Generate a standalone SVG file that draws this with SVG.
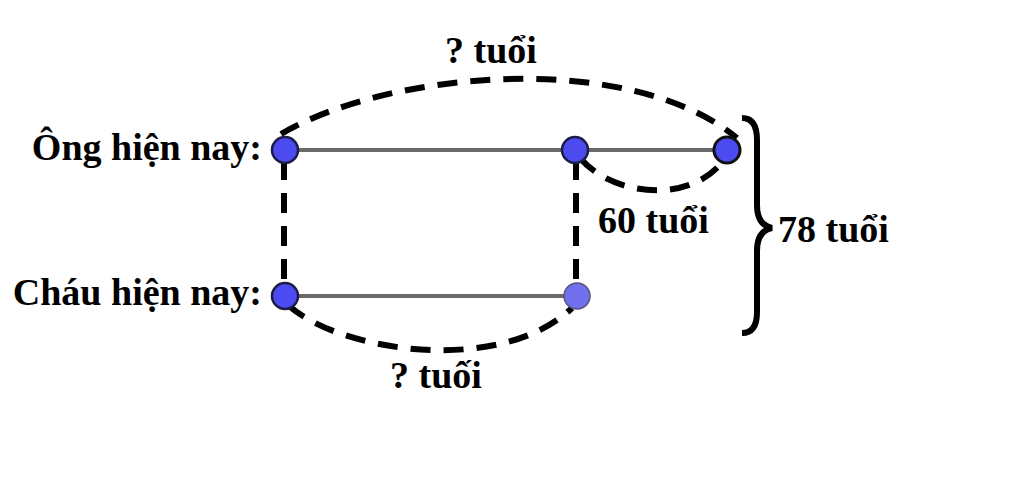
<svg xmlns="http://www.w3.org/2000/svg" width="1024" height="481" viewBox="0 0 1024 481">
<style>
.t{font-family:"Liberation Serif","Times New Roman",serif;font-weight:bold;font-size:38px;fill:#000}
.seg{stroke:#6a6a6a;stroke-width:4;fill:none}
.dash{stroke:#000;stroke-width:6;fill:none;stroke-dasharray:20 13}
.node{fill:#4b4bef;stroke:#1c1c45;stroke-width:2.5}
</style>
<rect width="1024" height="481" fill="#fff"/>
<g id="connectors">
<line class="seg" x1="285" y1="150" x2="727" y2="150"/>
<line class="seg" x1="285" y1="296" x2="577" y2="296"/>
<line class="dash" x1="284" y1="160" x2="284" y2="290" stroke-dasharray="18 12"/>
<line class="dash" x1="576" y1="160" x2="576" y2="290" stroke-dasharray="18 12"/>
<path class="dash" d="M 281 134 C 390 70 630 50 737 138"/>
<path class="dash" d="M 580 158 C 612 196 690 205 724 160" stroke-dasharray="18 12"/>
<path class="dash" d="M 288 305 C 340 352 500 376 572 308"/>
<path d="M 742 118 C 752 118 757 125 757 140 L 757 205 C 757 218 762 226 772 228 C 762 230 757 238 757 251 L 757 312 C 757 326 752 333 742 333" stroke="#000" stroke-width="6" fill="none"/>
</g>
<g id="ong"><circle class="node" cx="285" cy="150" r="13"/><text class="t" x="262" y="160" text-anchor="end">Ông hiện nay:</text></g>
<g id="ong-mid"><circle class="node" cx="575" cy="150" r="13"/></g>
<g id="ong-end"><circle class="node" cx="727" cy="150" r="13" style="stroke:#111;stroke-width:3"/></g>
<g id="chau"><circle class="node" cx="285" cy="296" r="13"/><text class="t" x="262" y="305" text-anchor="end">Cháu hiện nay:</text></g>
<g id="chau-end"><circle class="node" cx="577" cy="296" r="13" style="fill:#7070ef;stroke:#55557a;stroke-width:1.5"/></g>
<g id="labels">
<text class="t" x="445" y="63">? tuổi</text>
<text class="t" x="598" y="233">60 tuổi</text>
<text class="t" x="778" y="242">78 tuổi</text>
<text class="t" x="390" y="388">? tuối</text>
</g>
</svg>
